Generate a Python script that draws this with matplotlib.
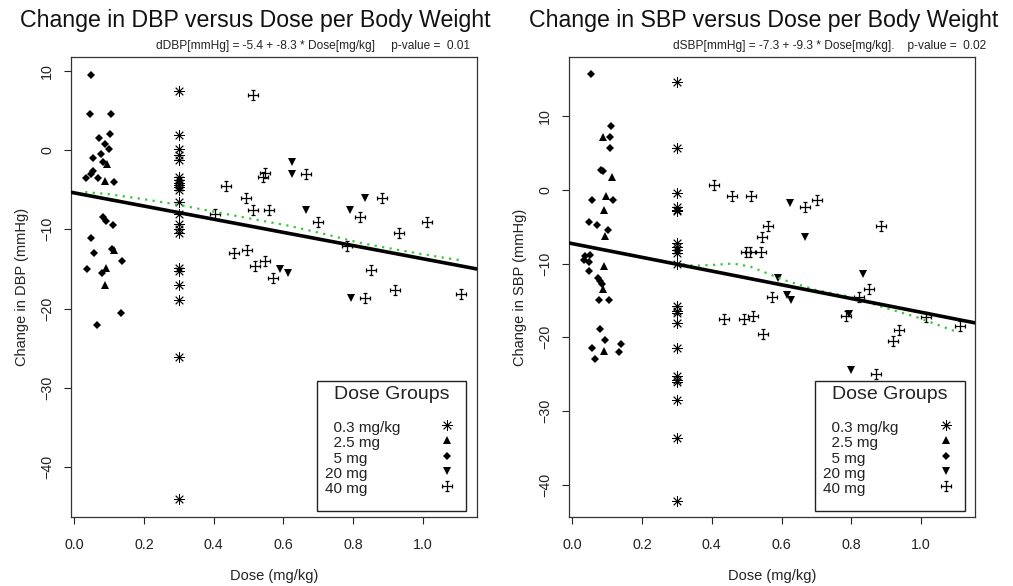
import numpy as np
import matplotlib
matplotlib.use('Agg')
import matplotlib.pyplot as plt
from matplotlib.path import Path

plt.rcParams['font.family'] = ['Liberation Sans', 'DejaVu Sans']

# ---- DBP panel: change in DBP (mmHg) by dose (mg/kg) ----
dbp_03_x = [0.3] * 22
dbp_03_y = [7.5, 1.9, 0.1, -0.6, -1.3, -3.4, -3.8, -4.2, -4.6, -5.0, -6.5, -8.0,
            -9.3, -9.9, -10.4, -14.9, -15.3, -17.0, -18.9, -26.1, -44.0, -4.4]
dbp_25_x = [0.095, 0.088, 0.115, 0.091, 0.088]
dbp_25_y = [-1.8, -3.9, -12.6, -14.9, -17.0]
dbp_5_x = [0.047, 0.045, 0.104, 0.102, 0.072, 0.088, 0.100, 0.055, 0.076, 0.083,
           0.055, 0.047, 0.034, 0.069, 0.114, 0.082, 0.091, 0.112, 0.047, 0.057,
           0.107, 0.138, 0.036, 0.079, 0.133, 0.064]
dbp_5_y = [9.5, 4.5, 4.5, 2.0, 1.5, 0.8, 0.1, -1.0, -0.5, -1.5,
           -2.6, -3.0, -3.5, -3.5, -4.0, -8.5, -9.0, -9.5, -11.1, -13.0,
           -12.5, -14.0, -15.0, -15.5, -20.6, -22.1]
dbp_20_x = [0.625, 0.625, 0.665, 0.792, 0.833, 0.589, 0.613, 0.795]
dbp_20_y = [-1.5, -3.0, -7.6, -7.6, -6.0, -15.0, -15.5, -18.6]
dbp_40_x = [0.512, 0.541, 0.547, 0.664, 0.435, 0.493, 0.512, 0.559, 0.404, 0.700,
            0.820, 0.884, 1.012, 0.932, 0.782, 0.457, 0.497, 0.520, 0.548, 0.571,
            0.851, 0.920, 0.834, 1.110]
dbp_40_y = [7.0, -3.45, -2.9, -3.0, -4.5, -6.0, -7.6, -7.6, -8.0, -9.1,
            -8.5, -6.0, -9.1, -10.5, -12.1, -13.0, -12.6, -14.6, -14.0, -16.1,
            -15.1, -17.6, -18.6, -18.2]
dbp_fit = (-5.4, -8.3)
dbp_p = 0.01
dbp_smooth_x = [0.031, 0.097, 0.20, 0.298, 0.404, 0.50, 0.611, 0.72, 0.82, 0.93, 1.05, 1.11]
dbp_smooth_y = [-5.3, -5.55, -6.2, -6.9, -7.8, -8.6, -9.5, -10.6, -11.7, -12.6, -13.5, -13.9]

# ---- SBP panel: change in SBP (mmHg) by dose (mg/kg) ----
sbp_03_x = [0.3] * 22
sbp_03_y = [14.6, 5.7, -0.4, -2.3, -2.7, -2.9, -7.2, -7.7, -8.2, -8.6, -10.0,
            -15.8, -16.4, -16.7, -18.0, -21.5, -25.3, -25.8, -26.1, -28.5, -33.6, -42.2]
sbp_25_x = [0.088, 0.114, 0.096, 0.090, 0.095, 0.091, 0.088, 0.091]
sbp_25_y = [7.2, 1.7, -0.8, -2.8, -6.2, -10.3, -13.4, -21.8]
sbp_5_x = [0.055, 0.112, 0.107, 0.107, 0.081, 0.089, 0.057, 0.117, 0.048, 0.072,
           0.102, 0.035, 0.050, 0.033, 0.048, 0.047, 0.074, 0.080, 0.086, 0.076,
           0.104, 0.078, 0.095, 0.057, 0.139, 0.134, 0.064]
sbp_5_y = [15.7, 8.6, 7.15, 5.7, 2.7, 2.6, -1.4, -1.4, -4.4, -4.8,
           -5.4, -9.0, -8.8, -9.5, -9.8, -11.0, -12.0, -12.4, -12.8, -14.9,
           -14.9, -18.9, -20.4, -21.5, -20.9, -22.0, -23.0]
sbp_20_x = [0.624, 0.668, 0.589, 0.615, 0.626, 0.833, 0.794, 0.799]
sbp_20_y = [-1.8, -6.4, -11.9, -14.3, -15.0, -11.4, -16.9, -24.4]
sbp_40_x = [0.406, 0.459, 0.512, 0.560, 0.545, 0.497, 0.509, 0.541, 0.666, 0.701,
            0.886, 0.574, 0.435, 0.492, 0.519, 0.548, 0.852, 0.821, 0.785, 0.936,
            0.920, 1.014, 1.113, 0.872]
sbp_40_y = [0.6, -0.9, -0.9, -4.9, -6.4, -8.4, -8.4, -8.4, -2.4, -1.45,
            -4.9, -14.5, -17.5, -17.5, -17.1, -19.5, -13.5, -14.5, -17.1, -19.0,
            -20.5, -17.2, -18.5, -25.0]
sbp_fit = (-7.3, -9.3)
sbp_p = 0.02
sbp_smooth_x = [0.04, 0.15, 0.30, 0.35, 0.40, 0.46, 0.51, 0.605, 0.70, 0.797, 0.89, 0.99, 1.105]
sbp_smooth_y = [-7.7, -8.7, -10.0, -10.3, -10.2, -10.0, -10.4, -12.2, -13.6, -14.5, -15.9, -17.3, -19.3]

group_labels = ['  0.3 mg/kg', '  2.5 mg', '  5 mg', '20 mg', '40 mg']

# plus sign with short end bars, used for the 40 mg group
c = 0.38
cross_verts = [(0, -1), (0, 1), (-1, 0), (1, 0),
               (-c, 1), (c, 1), (-c, -1), (c, -1),
               (1, -c), (1, c), (-1, -c), (-1, c)]
cross_codes = [Path.MOVETO, Path.LINETO] * 6
cross_marker = Path(cross_verts, cross_codes)

marker_styles = [
    dict(marker=(8, 2, 0), ms=7.6, mew=0.6, mfc='none'),
    dict(marker='^', ms=5.2, mew=0),
    dict(marker='D', ms=4.4, mew=0),
    dict(marker='v', ms=6.0, mew=0),
    dict(marker=cross_marker, ms=7.5, mew=0.9, mfc='none'),
]


def draw_panel(ax, groups, fit, smooth_x, smooth_y, ylim, ylabel):
    for (gx, gy), style in zip(groups, marker_styles):
        ax.plot(gx, gy, ls='none', color='black', mec='black', **style)

    # loess smooth under the least squares line
    ax.plot(smooth_x, smooth_y, color='#36c836', lw=1.6, ls=(0, (1, 2.4)), zorder=2.5)
    ax.axline((0, fit[0]), slope=fit[1], color='black', lw=2.6, zorder=3)

    ax.set_xlim(-0.0095, 1.155)
    ax.set_ylim(*ylim)
    ax.set_xticks([0, 0.2, 0.4, 0.6, 0.8, 1.0])
    ax.set_xticklabels(['0.0', '0.2', '0.4', '0.6', '0.8', '1.0'])
    ax.set_yticks([-40, -30, -20, -10, 0, 10])
    ax.tick_params(axis='both', direction='out', length=5, width=0.8,
                   labelsize=10.3, colors='#222222')
    ax.tick_params(axis='x', pad=10)
    ax.tick_params(axis='y', pad=7, labelrotation=90)
    for lab in ax.get_yticklabels():
        lab.set_va('center')
    for sp in ax.spines.values():
        sp.set_linewidth(0.9)
        sp.set_color('#333333')
    ax.set_xlabel('Dose (mg/kg)', fontsize=10.5, labelpad=12, color='#222222')
    ax.set_ylabel(ylabel, fontsize=10.5, labelpad=8, color='#222222')

    # dose group key
    ax.add_patch(plt.Rectangle((0.6065, 0.0135), 0.368, 0.283, transform=ax.transAxes,
                               fill=False, lw=1.0, ec='#222222', zorder=5))
    ax.text(0.79, 0.266, 'Dose Groups', transform=ax.transAxes, ha='center', va='center',
            fontsize=14, color='#222222')
    label_y = [0.194, 0.161, 0.127, 0.094, 0.061]
    for i, lab in enumerate(group_labels):
        ax.text(0.626, label_y[i], lab, transform=ax.transAxes, ha='left', va='center',
                fontsize=11, color='#222222')
        ax.plot([0.928], [label_y[i] + 0.006], transform=ax.transAxes, ls='none',
                color='black', mec='black', clip_on=False, **marker_styles[i])


fig = plt.figure(figsize=(10.13, 5.86), dpi=100)
ax1 = fig.add_axes([71 / 1013, 68.7 / 586, 405.7 / 1013, 460.3 / 586])
ax2 = fig.add_axes([569 / 1013, 68.7 / 586, 406 / 1013, 460.3 / 586])

draw_panel(ax1, [(dbp_03_x, dbp_03_y), (dbp_25_x, dbp_25_y), (dbp_5_x, dbp_5_y),
                 (dbp_20_x, dbp_20_y), (dbp_40_x, dbp_40_y)],
           dbp_fit, dbp_smooth_x, dbp_smooth_y, (-46.3, 11.73), 'Change in DBP (mmHg)')
draw_panel(ax2, [(sbp_03_x, sbp_03_y), (sbp_25_x, sbp_25_y), (sbp_5_x, sbp_5_y),
                 (sbp_20_x, sbp_20_y), (sbp_40_x, sbp_40_y)],
           sbp_fit, sbp_smooth_x, sbp_smooth_y, (-44.4, 18.0), 'Change in SBP (mmHg)')

fig.text(255 / 1013, 1 - 20 / 586, 'Change in DBP versus Dose per Body Weight',
         ha='center', va='center', fontsize=16.7, color='#111111')
fig.text(764 / 1013, 1 - 20 / 586, 'Change in SBP versus Dose per Body Weight',
         ha='center', va='center', fontsize=16.7, color='#111111')
fig.text(313 / 1013, 1 - 46 / 586,
         f'dDBP[mmHg] = {dbp_fit[0]} + {dbp_fit[1]} * Dose[mg/kg]     p-value =  {dbp_p:.2f}',
         ha='center', va='center', fontsize=8.6, color='#222222')
fig.text(830 / 1013, 1 - 46 / 586,
         f'dSBP[mmHg] = {sbp_fit[0]} + {sbp_fit[1]} * Dose[mg/kg].    p-value =  {sbp_p:.2f}',
         ha='center', va='center', fontsize=8.6, color='#222222')

fig.savefig('out.png', dpi=100)
